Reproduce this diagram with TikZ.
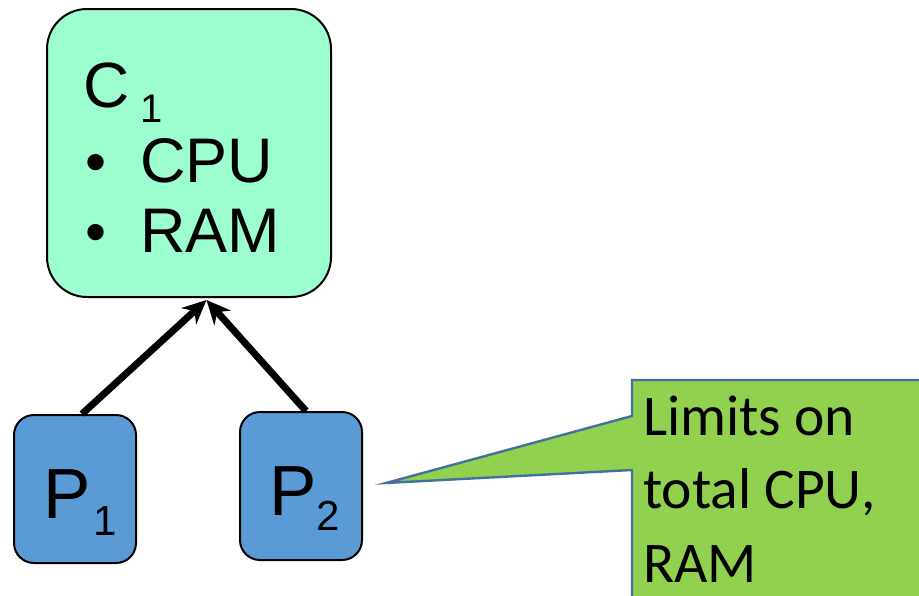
\documentclass[tikz,border=0pt]{standalone}
\usepackage{fontspec}
\setmainfont{Liberation Sans}
\newfontfamily\calfont{Carlito}
\usetikzlibrary{arrows.meta}
\definecolor{mint}{HTML}{9CFDCF}
\definecolor{pblue}{HTML}{5B9BD5}
\definecolor{cgreen}{HTML}{92D050}
\definecolor{cborder}{HTML}{41719C}
\begin{document}
\begin{tikzpicture}[x=1pt,y=-1pt,
  cbox/.style={draw=black,line width=2pt,fill=mint,rounded corners=40pt,minimum width=284pt,minimum height=288pt,inner sep=0pt},
  pbox/.style={draw=black,line width=2pt,fill=pblue,rounded corners=20pt,minimum width=122pt,minimum height=148pt,inner sep=0pt},
  txt/.style={anchor=base west,inner sep=0pt},
  arr/.style={line width=7pt,-{Stealth[length=24pt,width=22pt]}},
  calltxt/.style={anchor=base west,inner sep=0pt,font=\calfont\fontsize{57.5}{70}\selectfont}]
\useasboundingbox (0,0) rectangle (919,595);
\node[cbox] (C1) at (189,153) {};
\node[pbox] (P1) at (75,489) {};
\node[pbox] (P2) at (301,486) {};
% C1 texts
\node[txt,font=\fontsize{64}{70}\selectfont] (ct) at (83,107) {C};
\node[txt,font=\fontsize{40}{42}\selectfont] (cs) at (140,122) {1};
\node[txt,font=\fontsize{60}{70}\selectfont] (b1) at (85,182) {•};
\node[txt,font=\fontsize{63}{70}\selectfont] (cpu) at (140,182) {CPU};
\node[txt,font=\fontsize{60}{70}\selectfont] (b2) at (85,252) {•};
\node[txt,font=\fontsize{63}{70}\selectfont] (ram) at (140,252) {RAM};
% P texts
\node[txt,font=\fontsize{71}{75}\selectfont] (p1t) at (43,518) {P};
\node[txt,font=\fontsize{42}{45}\selectfont] (p1s) at (93,535) {1};
\node[txt,font=\fontsize{71}{75}\selectfont] (p2t) at (269,515) {P};
\node[txt,font=\fontsize{42}{45}\selectfont] (p2s) at (316,530) {2};
% arrows
\coordinate (tip) at (206.5,300);
\draw[arr] ([xshift=7pt]P1.north) -- (tip);
\draw[arr] ([xshift=5pt]P2.north) -- (tip);
% callout
\coordinate (ptr) at (386,483);
\draw[draw=cborder,line width=2.4pt,fill=cgreen] (632,470) -- (ptr) -- (632,416) -- (632,380) -- (930,380) -- (930,610) -- (632,610) -- cycle;
\node[calltxt] (l1) at (643,435) {Limits on};
\node[calltxt] (l2) at (643,508) {total CPU,};
\node[calltxt] (l3) at (643,582) {RAM};
\end{tikzpicture}
\end{document}
